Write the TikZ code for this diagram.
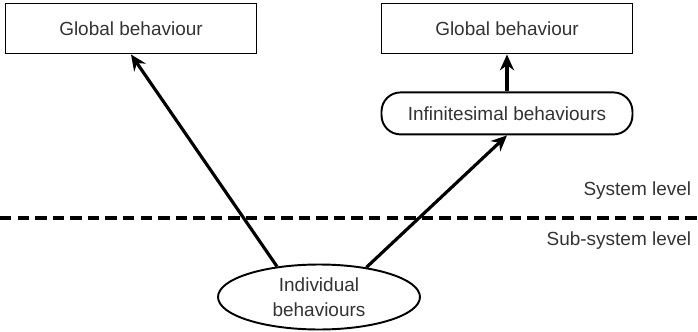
\documentclass[tikz,border=0pt]{standalone}
\usepackage{fontspec}
\setmainfont{Liberation Sans}
\usepackage{xcolor}
\usepackage{tikz}
\usetikzlibrary{positioning,arrows.meta,shapes.geometric}

\definecolor{txt}{HTML}{333333}

\begin{document}
\begin{tikzpicture}[x=0.02cm,y=-0.02cm,
    every node/.style={font=\fontsize{10.8}{14}\selectfont,text=txt},
    level/.style={rectangle,draw,line width=1.1pt,minimum width=5.02cm,minimum height=1.0cm},
    micro/.style={rectangle,draw,line width=1.1pt,rounded corners=0.38cm,minimum width=5.02cm,minimum height=0.84cm},
    agent/.style={ellipse,draw,line width=1.1pt,minimum width=4.04cm,minimum height=1.3cm,inner sep=0pt,align=center},
    link/.style={line width=1.8pt,-{Stealth[length=9pt,width=8pt]}}]
    \useasboundingbox (0,0) rectangle (698,332);
    \node[level] (G1) at (131,28.5) {Global behaviour};
    \node[level] (G2) at (507,28.5) {Global behaviour};
    \node[micro,below=0.74cm of G2] (I) {Infinitesimal behaviours};
    \node[agent] (A) at (319,297) {Individual\\behaviours};
    \draw[line width=1.8pt,dash pattern=on 6.5pt off 3.5pt] (0,218) coordinate (L) -- (698,218) coordinate (R);
    \node[anchor=south east,inner sep=2pt] (sys) at (695,203) {System level};
    \node[anchor=north east,inner sep=2pt] (sub) at (695,228) {Sub-system level};
    \draw[link] (A.144) -- (G1.south);
    \draw[link] (A.32) -- (I.south);
    \draw[link] (I.north) -- (G2.south);
  \end{tikzpicture}
\end{document}
